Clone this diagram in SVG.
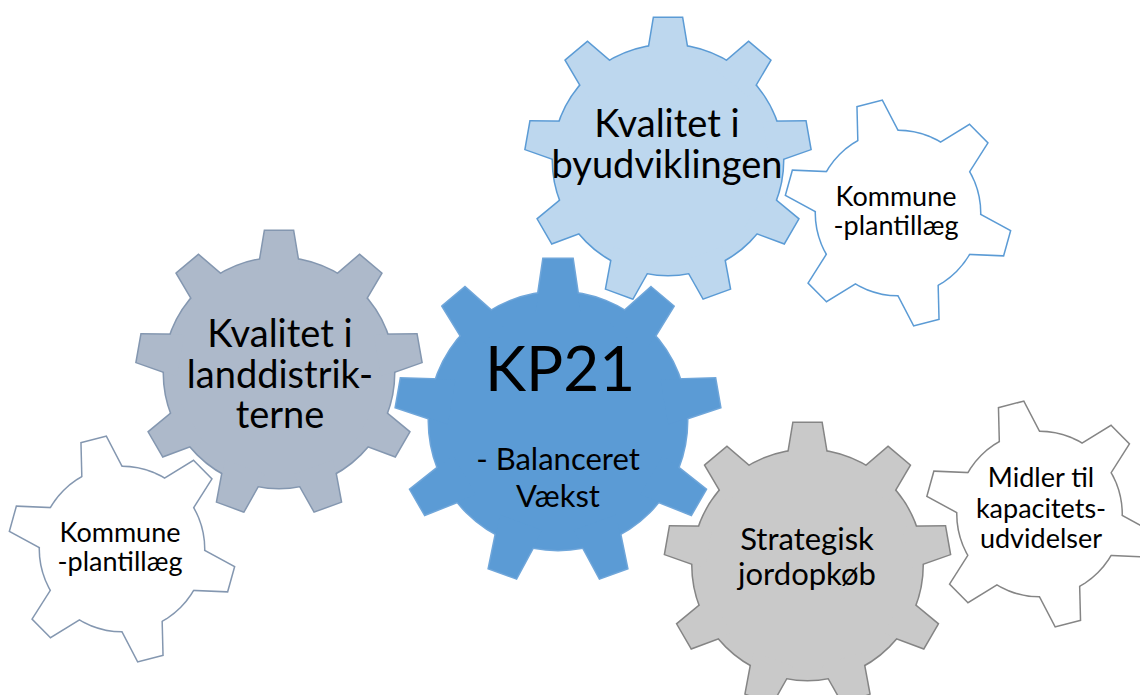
<svg xmlns="http://www.w3.org/2000/svg" xmlns:xlink="http://www.w3.org/1999/xlink" width="1140" height="695" viewBox="0 0 1140 695">
<style>
  text { font-family: Lato, "Open Sans", "Liberation Sans", sans-serif; fill: #000; text-anchor: middle; }
  .c-main { fill: #5B9BD5; stroke: #6FA6DA; }
  .c-city { fill: #BDD7EE; stroke: #5B9BD5; }
  .c-land { fill: #ADB9CA; stroke: #8497B0; }
  .c-gray { fill: #C9C9C9; stroke: #858585; }
  .w-blue { fill: #FFFFFF; stroke: #5B9BD5; }
  .w-slate { fill: #FFFFFF; stroke: #8497B0; }
  .w-gray { fill: #FFFFFF; stroke: #858585; }
  use.edge { stroke-width: 3; stroke-linejoin: miter; }
  use.face { stroke: none; }
  .t-big { font-size: 38px; }
  .t-mid { font-size: 31px; }
  .t-small { font-size: 27px; }
</style>
<defs>
  <polygon id="t9a" points="-14.5,-162 14.5,-162 22.5,-108 -22.5,-108"/>
  <polygon id="t9b" points="-14,-142 14,-142 21,-100 -21,-100"/>
  <polygon id="t6" points="-12.5,-112.5 12.5,-112.5 23.5,-65 -23.5,-65"/>
  <g id="g9a">
    <circle r="129"/>
    <use xlink:href="#t9a"/>
    <use xlink:href="#t9a" transform="rotate(40)"/>
    <use xlink:href="#t9a" transform="rotate(80)"/>
    <use xlink:href="#t9a" transform="rotate(120)"/>
    <use xlink:href="#t9a" transform="rotate(160)"/>
    <use xlink:href="#t9a" transform="rotate(200)"/>
    <use xlink:href="#t9a" transform="rotate(240)"/>
    <use xlink:href="#t9a" transform="rotate(280)"/>
    <use xlink:href="#t9a" transform="rotate(320)"/>
  </g>
  <g id="g9b">
    <circle r="115"/>
    <use xlink:href="#t9b"/>
    <use xlink:href="#t9b" transform="rotate(40)"/>
    <use xlink:href="#t9b" transform="rotate(80)"/>
    <use xlink:href="#t9b" transform="rotate(120)"/>
    <use xlink:href="#t9b" transform="rotate(160)"/>
    <use xlink:href="#t9b" transform="rotate(200)"/>
    <use xlink:href="#t9b" transform="rotate(240)"/>
    <use xlink:href="#t9b" transform="rotate(280)"/>
    <use xlink:href="#t9b" transform="rotate(320)"/>
  </g>
  <g id="g6">
    <circle r="82"/>
    <use xlink:href="#t6" transform="rotate(-14.5)"/>
    <use xlink:href="#t6" transform="rotate(45.5)"/>
    <use xlink:href="#t6" transform="rotate(105.5)"/>
    <use xlink:href="#t6" transform="rotate(165.5)"/>
    <use xlink:href="#t6" transform="rotate(225.5)"/>
    <use xlink:href="#t6" transform="rotate(285.5)"/>
  </g>
</defs>

<g id="connectors"></g>

<g id="gear-land">
  <use xlink:href="#g9b" class="c-land edge" transform="translate(279,373)"/>
  <use xlink:href="#g9b" class="c-land face" transform="translate(279,373)"/>
  <text class="t-big" x="280" y="347">Kvalitet i</text>
  <text class="t-big" x="280" y="388">landdistrik-</text>
  <text class="t-big" x="280" y="428">terne</text>
</g>

<g id="gear-city">
  <use xlink:href="#g9b" class="c-city edge" transform="translate(668,160)"/>
  <use xlink:href="#g9b" class="c-city face" transform="translate(668,160)"/>
  <text class="t-big" x="667" y="137">Kvalitet i</text>
  <text class="t-big" x="667" y="178">byudviklingen</text>
</g>

<g id="gear-strategic">
  <use xlink:href="#g9b" class="c-gray edge" transform="translate(807.5,565)"/>
  <use xlink:href="#g9b" class="c-gray face" transform="translate(807.5,565)"/>
  <text class="t-mid" x="807" y="550">Strategisk</text>
  <text class="t-mid" x="807" y="585">jordopkøb</text>
</g>

<g id="gear-kp21">
  <use xlink:href="#g9a" class="c-main edge" transform="translate(558,421)"/>
  <use xlink:href="#g9a" class="c-main face" transform="translate(558,421)"/>
  <text x="560" y="391" style="font-size:62px">KP21</text>
  <text class="t-mid" x="558" y="470">- Balanceret</text>
  <text class="t-mid" x="558" y="507">Vækst</text>
</g>

<g id="gear-plan-top">
  <use xlink:href="#g6" class="w-blue edge" transform="translate(898,213)"/>
  <use xlink:href="#g6" class="w-blue face" transform="translate(898,213)"/>
  <text class="t-small" x="896" y="206">Kommune</text>
  <text class="t-small" x="896" y="235">-plantillæg</text>
</g>

<g id="gear-plan-left">
  <use xlink:href="#g6" class="w-slate edge" transform="translate(122,549)"/>
  <use xlink:href="#g6" class="w-slate face" transform="translate(122,549)"/>
  <text class="t-small" x="120" y="542">Kommune</text>
  <text class="t-small" x="120" y="571">-plantillæg</text>
</g>

<g id="gear-funds">
  <use xlink:href="#g6" class="w-gray edge" transform="translate(1039.5,514)"/>
  <use xlink:href="#g6" class="w-gray face" transform="translate(1039.5,514)"/>
  <text class="t-small" x="1041" y="487">Midler til</text>
  <text class="t-small" x="1041" y="518">kapacitets-</text>
  <text class="t-small" x="1041" y="548">udvidelser</text>
</g>
</svg>
